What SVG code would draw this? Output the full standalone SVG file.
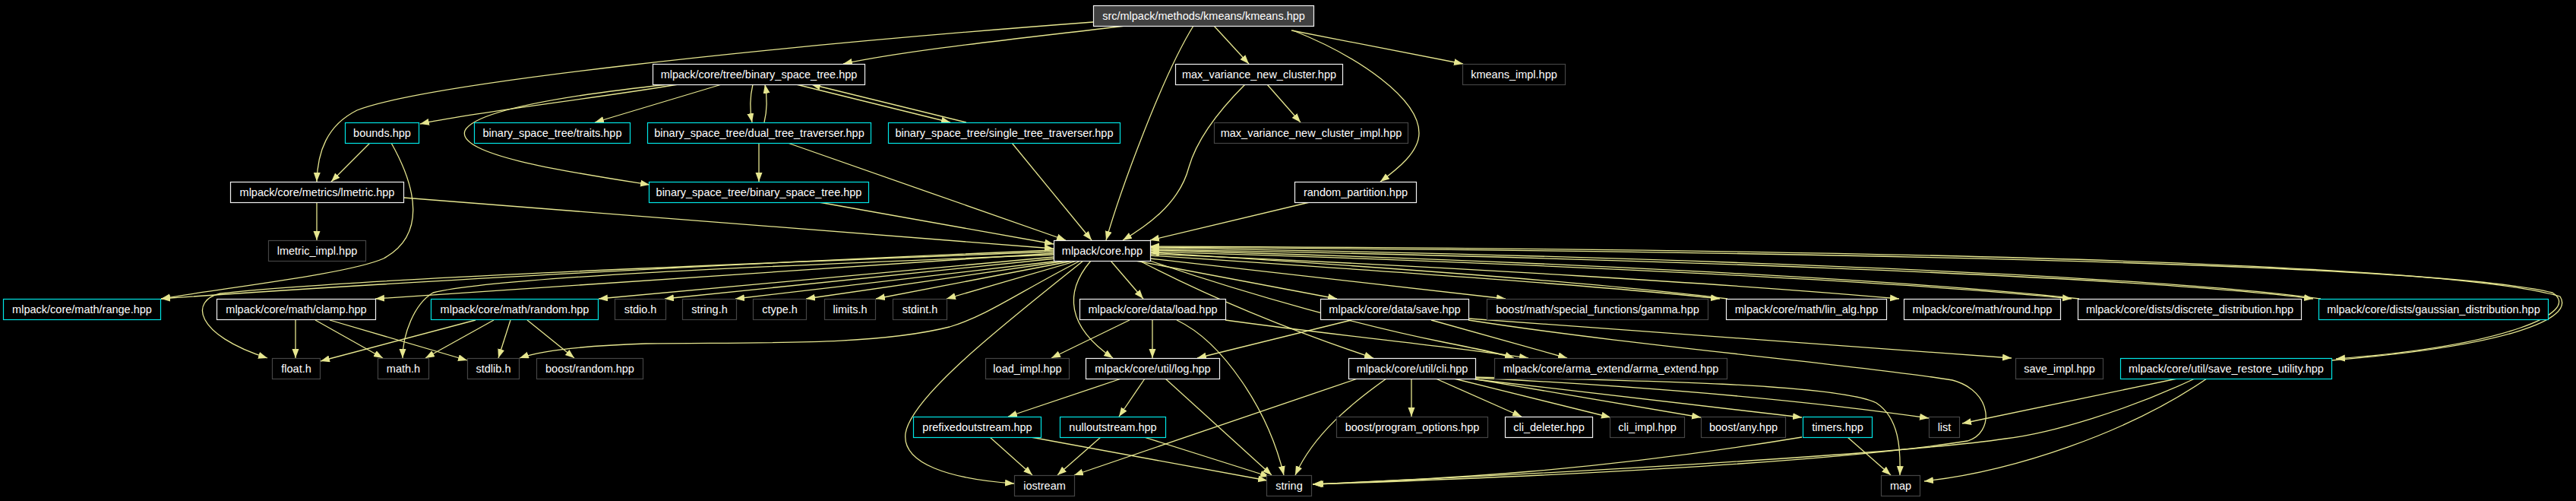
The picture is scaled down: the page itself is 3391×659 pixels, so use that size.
<svg xmlns="http://www.w3.org/2000/svg" width="3391" height="659" viewBox="0 0 3391 659">
<style>
.n rect{fill:#000;stroke-width:1.2}
.w rect{stroke:#f0f0f0}
.c rect{stroke:#00e5e5}
.d rect{stroke:#444}
.r rect{fill:#404040;stroke:#f0f0f0}
text{font-family:"Liberation Sans",Arial,sans-serif;font-size:14.5px;fill:#fff;text-anchor:middle}
#edges path{fill:none;stroke:#e6e68f;stroke-width:1.3;marker-end:url(#a)}
</style>
<defs>
<marker id="a" markerUnits="userSpaceOnUse" markerWidth="13" markerHeight="10" refX="12" refY="4.5" orient="auto"><path d="M0,0 L12,4.5 L0,9 Z" fill="#e6e68f"/></marker>
</defs>
<rect x="0" y="0" width="3391" height="659" fill="#000"/>
<g id="edges">
<path d="M1481,34 C1350,50 1200,65 1110,84"/>
<path d="M1439,29 C1000,62 560,110 470,145 C430,165 418,200 417,239"/>
<path d="M1571,34 C1530,100 1475,250 1456,316"/>
<path d="M1598,34 L1644,84"/>
<path d="M1700,40 L1926,84"/>
<path d="M1702,40 C1790,75 1868,130 1868,175 C1868,200 1840,222 1817,239"/>
<path d="M893,111 C780,130 620,148 553,163"/>
<path d="M880,111 C750,125 625,145 612,172 C600,205 760,228 855,243"/>
<path d="M950,111 L783,161"/>
<path d="M991,111 C987,128 987,145 990,161"/>
<path d="M1006,161 C1010,145 1010,128 1007,111"/>
<path d="M1048,111 L1251,161"/>
<path d="M1272,161 L1068,111"/>
<path d="M999,188 L999,239"/>
<path d="M1037,188 L1403,316"/>
<path d="M1332,188 L1437,316"/>
<path d="M1639,111 C1600,150 1575,185 1565,220 C1552,270 1505,300 1478,316"/>
<path d="M1668,111 L1712,161"/>
<path d="M1724,266 L1514,316"/>
<path d="M1078,266 L1387,321"/>
<path d="M531,260 L1387,327"/>
<path d="M417,266 L417,316"/>
<path d="M487,188 L436,239"/>
<path d="M515,188 C550,250 560,310 505,340 C460,360 300,378 212,393"/>
<path d="M1387,329 C1000,345 500,372 212,393"/>
<path d="M1387,331 C900,350 450,368 290,386 C250,395 255,440 352,471"/>
<path d="M1387,333 L494,393"/>
<path d="M1387,335 C1000,350 650,365 570,385 C545,400 530,440 530,471"/>
<path d="M1387,338 L788,393"/>
<path d="M1390,340 L875,393"/>
<path d="M1395,343 L968,393"/>
<path d="M1405,343 L1061,393"/>
<path d="M1413,343 L1153,393"/>
<path d="M1418,343 L1246,393"/>
<path d="M1422,343 C1340,385 1300,415 1250,430 C1150,455 1000,450 850,452 C760,455 710,462 684,471"/>
<path d="M1426,343 C1330,420 1200,520 1192,570 C1187,610 1250,630 1335,636"/>
<path d="M1436,343 C1400,385 1405,430 1465,471"/>
<path d="M1462,343 L1505,393"/>
<path d="M1495,343 L1760,393"/>
<path d="M1514,340 C1700,362 1850,378 1982,393"/>
<path d="M1514,336 C1800,355 2100,375 2264,393"/>
<path d="M2274,393 C2100,371 1800,350 1514,332"/>
<path d="M1514,334 C1900,350 2300,375 2500,393"/>
<path d="M1514,331 C2000,345 2500,370 2727,393"/>
<path d="M2737,393 C2500,367 2000,342 1514,329"/>
<path d="M1514,328 C2100,338 2800,362 3045,393"/>
<path d="M3055,393 C2800,359 2100,335 1514,326"/>
<path d="M1514,325 C2300,330 3200,345 3360,385 C3400,410 3300,455 3075,472"/>
<path d="M3069,474 C3300,455 3390,420 3370,390 C3200,340 2300,327 1514,324"/>
<path d="M1500,343 C1600,395 1700,435 1808,471"/>
<path d="M1514,343 C1650,390 1800,430 1900,450 C1950,460 1975,465 1993,471"/>
<path d="M1487,421 L1384,471"/>
<path d="M1517,421 L1517,471"/>
<path d="M1549,421 C1610,450 1670,540 1690,625"/>
<path d="M1613,421 C1750,440 1900,455 2012,471"/>
<path d="M1779,421 L1576,471"/>
<path d="M1884,421 L2063,471"/>
<path d="M1933,419 C2200,440 2450,455 2648,471"/>
<path d="M1933,421 C2150,455 2450,480 2570,500 C2625,515 2625,570 2590,580 C2400,610 2000,628 1730,637"/>
<path d="M626,421 L422,475"/>
<path d="M650,421 L560,471"/>
<path d="M672,421 L656,471"/>
<path d="M694,421 L756,471"/>
<path d="M389,421 L389,471"/>
<path d="M415,421 L504,471"/>
<path d="M434,421 L615,474"/>
<path d="M1476,498 L1327,548"/>
<path d="M1507,498 L1473,548"/>
<path d="M1534,498 L1674,625"/>
<path d="M1303,575 L1359,625"/>
<path d="M1357,575 L1668,632"/>
<path d="M1449,575 L1392,625"/>
<path d="M1506,575 L1671,627"/>
<path d="M1787,498 L1414,625"/>
<path d="M1825,498 C1780,530 1730,570 1705,625"/>
<path d="M1858,498 L1858,548"/>
<path d="M1890,498 L2003,548"/>
<path d="M1914,498 L2120,549"/>
<path d="M1938,498 L2239,549"/>
<path d="M1942,499 L2372,549"/>
<path d="M1942,497 C2200,510 2400,530 2539,550"/>
<path d="M1942,496 C2150,500 2420,505 2470,530 C2500,550 2502,590 2501,625"/>
<path d="M2432,575 L2489,625"/>
<path d="M2372,575 C2100,620 1900,630 1728,637"/>
<path d="M2866,498 L2583,557"/>
<path d="M2889,498 C2800,540 2700,570 2640,577 C2500,598 2000,625 1728,637"/>
<path d="M2905,498 C2800,570 2650,620 2533,633"/>
</g>
<g id="kmeans" class="n r"><rect x="1439.5" y="7.5" width="290" height="27"/><text x="1584.5" y="26">src/mlpack/methods/kmeans/kmeans.hpp</text></g>
<g id="bst" class="n w"><rect x="859.5" y="84.5" width="279" height="27"/><text x="999" y="103">mlpack/core/tree/binary_space_tree.hpp</text></g>
<g id="mvnc" class="n w"><rect x="1547.5" y="84.5" width="220" height="27"/><text x="1657.5" y="103">max_variance_new_cluster.hpp</text></g>
<g id="kimpl" class="n d"><rect x="1925.5" y="84.5" width="135" height="27"/><text x="1993" y="103">kmeans_impl.hpp</text></g>
<g id="bounds" class="n c"><rect x="454.5" y="161.5" width="97" height="27"/><text x="503" y="180">bounds.hpp</text></g>
<g id="traits" class="n c"><rect x="624.5" y="161.5" width="205" height="27"/><text x="727" y="180">binary_space_tree/traits.hpp</text></g>
<g id="dual" class="n c"><rect x="852.5" y="161.5" width="294" height="27"/><text x="999.5" y="180">binary_space_tree/dual_tree_traverser.hpp</text></g>
<g id="single" class="n c"><rect x="1169.5" y="161.5" width="305" height="27"/><text x="1322" y="180">binary_space_tree/single_tree_traverser.hpp</text></g>
<g id="mvimpl" class="n d"><rect x="1598.5" y="161.5" width="255" height="27"/><text x="1726" y="180">max_variance_new_cluster_impl.hpp</text></g>
<g id="lmetric" class="n w"><rect x="303.5" y="239.5" width="228" height="27"/><text x="417.5" y="258">mlpack/core/metrics/lmetric.hpp</text></g>
<g id="bstbst" class="n c"><rect x="854.5" y="239.5" width="289" height="27"/><text x="999" y="258">binary_space_tree/binary_space_tree.hpp</text></g>
<g id="rp" class="n w"><rect x="1704.5" y="239.5" width="160" height="27"/><text x="1784.5" y="258">random_partition.hpp</text></g>
<g id="limpl" class="n d"><rect x="353.5" y="316.5" width="128" height="27"/><text x="417.5" y="335">lmetric_impl.hpp</text></g>
<g id="core" class="n w"><rect x="1387.5" y="316.5" width="127" height="27"/><text x="1451" y="335">mlpack/core.hpp</text></g>
<g id="range" class="n c"><rect x="4.5" y="393.5" width="207" height="27"/><text x="108" y="412">mlpack/core/math/range.hpp</text></g>
<g id="clamp" class="n w"><rect x="285.5" y="393.5" width="209" height="27"/><text x="390" y="412">mlpack/core/math/clamp.hpp</text></g>
<g id="random" class="n c"><rect x="567.5" y="393.5" width="220" height="27"/><text x="677.5" y="412">mlpack/core/math/random.hpp</text></g>
<g id="stdio" class="n d"><rect x="809.5" y="393.5" width="67" height="27"/><text x="843" y="412">stdio.h</text></g>
<g id="stringh" class="n d"><rect x="898.5" y="393.5" width="71" height="27"/><text x="934" y="412">string.h</text></g>
<g id="ctype" class="n d"><rect x="991.5" y="393.5" width="70" height="27"/><text x="1026.5" y="412">ctype.h</text></g>
<g id="limits" class="n d"><rect x="1085.5" y="393.5" width="67" height="27"/><text x="1119" y="412">limits.h</text></g>
<g id="stdint" class="n d"><rect x="1175.5" y="393.5" width="71" height="27"/><text x="1211" y="412">stdint.h</text></g>
<g id="load" class="n w"><rect x="1421.5" y="393.5" width="192" height="27"/><text x="1517.5" y="412">mlpack/core/data/load.hpp</text></g>
<g id="save" class="n w"><rect x="1738.5" y="393.5" width="195" height="27"/><text x="1836" y="412">mlpack/core/data/save.hpp</text></g>
<g id="gamma" class="n d"><rect x="1957.5" y="393.5" width="291" height="27"/><text x="2103" y="412">boost/math/special_functions/gamma.hpp</text></g>
<g id="linalg" class="n w"><rect x="2272.5" y="393.5" width="211" height="27"/><text x="2378" y="412">mlpack/core/math/lin_alg.hpp</text></g>
<g id="round" class="n w"><rect x="2506.5" y="393.5" width="206" height="27"/><text x="2609.5" y="412">mlpack/core/math/round.hpp</text></g>
<g id="discrete" class="n w"><rect x="2735.5" y="393.5" width="294" height="27"/><text x="2882.5" y="412">mlpack/core/dists/discrete_distribution.hpp</text></g>
<g id="gauss" class="n c"><rect x="3052.5" y="393.5" width="302" height="27"/><text x="3203.5" y="412">mlpack/core/dists/gaussian_distribution.hpp</text></g>
<g id="float" class="n d"><rect x="358.5" y="471.5" width="63" height="27"/><text x="390" y="490">float.h</text></g>
<g id="math" class="n d"><rect x="497.5" y="471.5" width="67" height="27"/><text x="531" y="490">math.h</text></g>
<g id="stdlib" class="n d"><rect x="615.5" y="471.5" width="68" height="27"/><text x="649.5" y="490">stdlib.h</text></g>
<g id="brandom" class="n d"><rect x="706.5" y="471.5" width="140" height="27"/><text x="776.5" y="490">boost/random.hpp</text></g>
<g id="loadimpl" class="n d"><rect x="1297.5" y="471.5" width="110" height="27"/><text x="1352.5" y="490">load_impl.hpp</text></g>
<g id="log" class="n w"><rect x="1429.5" y="471.5" width="176" height="27"/><text x="1517.5" y="490">mlpack/core/util/log.hpp</text></g>
<g id="cli" class="n w"><rect x="1775.5" y="471.5" width="167" height="27"/><text x="1859" y="490">mlpack/core/util/cli.hpp</text></g>
<g id="arma" class="n d"><rect x="1967.5" y="471.5" width="306" height="27"/><text x="2120.5" y="490">mlpack/core/arma_extend/arma_extend.hpp</text></g>
<g id="saveimpl" class="n d"><rect x="2653.5" y="471.5" width="115" height="27"/><text x="2711" y="490">save_impl.hpp</text></g>
<g id="sru" class="n c"><rect x="2791.5" y="471.5" width="278" height="27"/><text x="2930.5" y="490">mlpack/core/util/save_restore_utility.hpp</text></g>
<g id="prefixed" class="n c"><rect x="1202.5" y="548.5" width="168" height="27"/><text x="1286.5" y="567">prefixedoutstream.hpp</text></g>
<g id="null" class="n c"><rect x="1395.5" y="548.5" width="139" height="27"/><text x="1465" y="567">nulloutstream.hpp</text></g>
<g id="bpo" class="n d"><rect x="1759.5" y="548.5" width="199" height="27"/><text x="1859" y="567">boost/program_options.hpp</text></g>
<g id="clidel" class="n w"><rect x="1981.5" y="548.5" width="115" height="27"/><text x="2039" y="567">cli_deleter.hpp</text></g>
<g id="cliimpl" class="n d"><rect x="2119.5" y="548.5" width="98" height="27"/><text x="2168.5" y="567">cli_impl.hpp</text></g>
<g id="bany" class="n d"><rect x="2239.5" y="548.5" width="111" height="27"/><text x="2295" y="567">boost/any.hpp</text></g>
<g id="timers" class="n c"><rect x="2373.5" y="548.5" width="91" height="27"/><text x="2419" y="567">timers.hpp</text></g>
<g id="list" class="n d"><rect x="2539.5" y="548.5" width="40" height="27"/><text x="2559.5" y="567">list</text></g>
<g id="iostream" class="n d"><rect x="1335.5" y="625.5" width="79" height="27"/><text x="1375" y="644">iostream</text></g>
<g id="string" class="n d"><rect x="1667.5" y="625.5" width="59" height="27"/><text x="1697" y="644">string</text></g>
<g id="map" class="n d"><rect x="2476.5" y="625.5" width="51" height="27"/><text x="2502" y="644">map</text></g>
</svg>
